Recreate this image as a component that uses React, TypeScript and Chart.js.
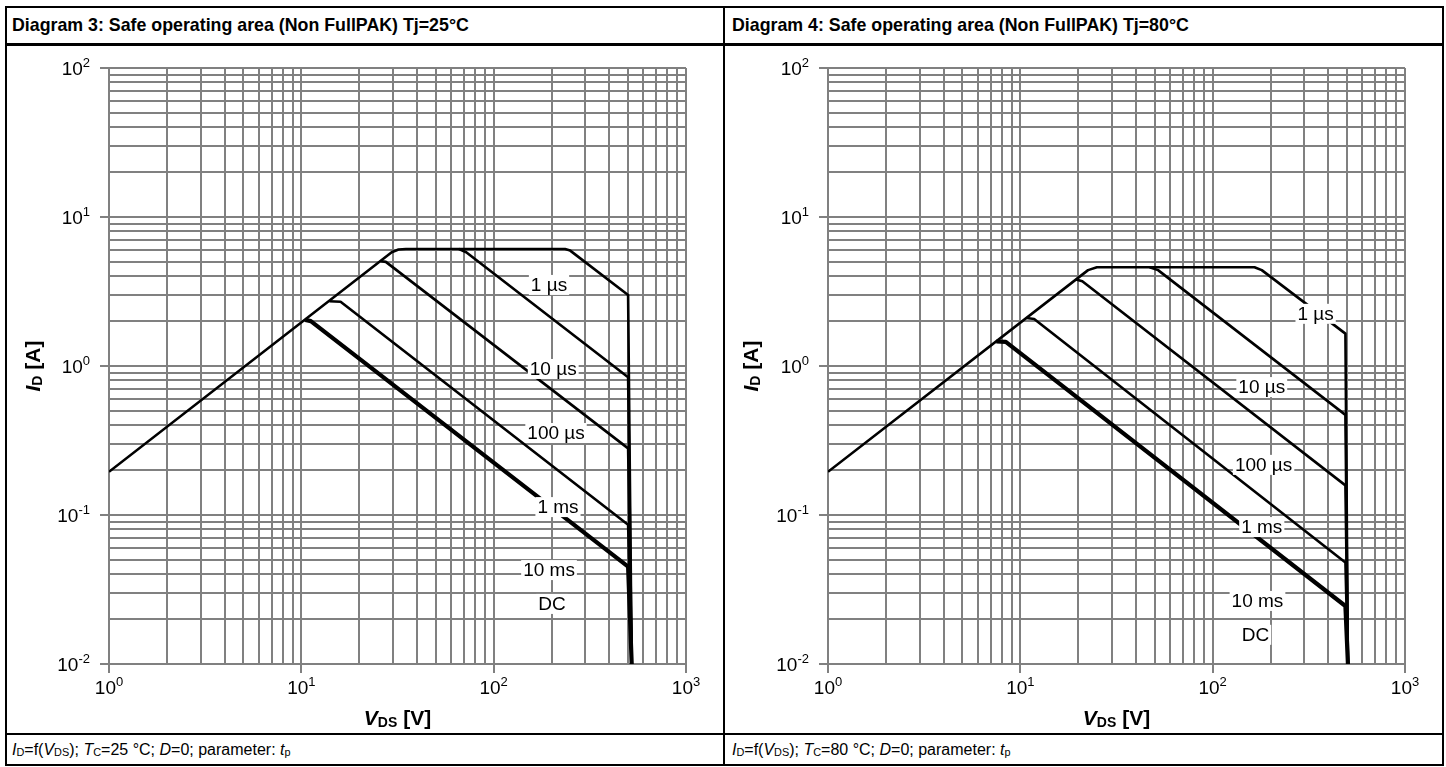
import React, { useEffect, useRef } from "react";
import { Chart, registerables } from "chart.js";

Chart.register(...registerables);

const FONT = '"Liberation Sans", Arial, Helvetica, sans-serif';
const GRID = "#808080";

// axis decades and the minor mantissas between them
const X_DECADES = [1, 10, 100, 1000];
const Y_DECADES = [0.01, 0.1, 1, 10, 100];
const MANTISSA = [1, 2, 3, 4, 5, 6, 7, 8, 9];

type Pt = [number, number]; // [V_DS in V, I_D in A]

// Diagram 3: Tj = 25 °C
const t25_1us: Pt[] = [[1, 0.195], [29.5, 5.8], [32, 6.05], [35, 6.1], [235, 6.1], [250, 5.95], [500, 3.0], [522, 0.01]];
const t25_10us: Pt[] = [[66, 6.1], [72, 5.8], [500, 0.84], [522, 0.01]];
const t25_100us: Pt[] = [[26, 5.05], [27.5, 5.0], [500, 0.28], [522, 0.01]];
const t25_1ms: Pt[] = [[14, 2.72], [16, 2.7], [500, 0.086], [522, 0.01]];
const t25_10ms: Pt[] = [[10.5, 2.04], [11.2, 2.0], [500, 0.045], [522, 0.01]];

const t25LabelText = ["1 µs", "10 µs", "100 µs", "1 ms", "10 ms", "DC"];
const t25LabelV = [194, 204, 211, 216, 194, 201];
const t25LabelI = [3.5, 0.955, 0.355, 0.113, 0.0427, 0.0253];

// Diagram 4: Tj = 80 °C
const t80_1us: Pt[] = [[1, 0.195], [22.5, 4.4], [25, 4.6], [165, 4.6], [180, 4.4], [490, 1.65], [505, 0.01]];
const t80_10us: Pt[] = [[47, 4.6], [52, 4.4], [490, 0.47], [505, 0.01]];
const t80_100us: Pt[] = [[19.5, 3.8], [21, 3.7], [490, 0.158], [505, 0.01]];
const t80_1ms: Pt[] = [[10.8, 2.1], [11.8, 2.07], [490, 0.048], [505, 0.01]];
const t80_10ms: Pt[] = [[7.5, 1.46], [8.4, 1.45], [490, 0.0245], [505, 0.01]];

const t80LabelText = ["1 µs", "10 µs", "100 µs", "1 ms", "10 ms", "DC"];
const t80LabelV = [343, 180, 184, 180, 171, 167];
const t80LabelI = [2.24, 0.722, 0.217, 0.083, 0.0265, 0.0157];

function isDecade(v?: number) {
  if (!v) return false;
  const l = Math.log10(v);
  return Math.abs(l - Math.round(l)) < 1e-6;
}

function makeTicks(decades: number[]) {
  const out: { value: number; major: boolean }[] = [];
  decades.forEach((d, i) => {
    MANTISSA.forEach((m) => {
      if (i === decades.length - 1 && m > 1) return;
      const v = parseFloat((m * d).toPrecision(6));
      out.push({ value: v, major: m === 1 });
    });
  });
  return out;
}

type Seg = { t: string; f: string; dy?: number };
function drawRich(ctx: CanvasRenderingContext2D, segs: Seg[], x: number, y: number, align: "left" | "center" | "right") {
  ctx.textAlign = "left";
  ctx.textBaseline = "alphabetic";
  const ws = segs.map((s) => {
    ctx.font = s.f;
    return ctx.measureText(s.t).width;
  });
  const total = ws.reduce((a, b) => a + b, 0);
  let cx = align === "center" ? x - total / 2 : align === "right" ? x - total : x;
  segs.forEach((s, i) => {
    ctx.font = s.f;
    ctx.fillText(s.t, cx, y + (s.dy || 0));
    cx += ws[i];
  });
}

const decorPlugin = {
  id: "soaDecor",
  afterDatasetsDraw(chart: any) {
    const ctx: CanvasRenderingContext2D = chart.ctx;
    const xs = chart.scales.x;
    const ys = chart.scales.y;
    const o = chart.options.plugins.soaDecor;
    ctx.save();
    ctx.font = `19px ${FONT}`;
    ctx.textAlign = "center";
    ctx.textBaseline = "middle";
    o.texts.forEach((t: string, i: number) => {
      const px = xs.getPixelForValue(o.vs[i]);
      const py = ys.getPixelForValue(o.is[i]);
      const w = ctx.measureText(t).width + 4;
      ctx.fillStyle = "#fff";
      ctx.fillRect(px - w / 2, py - 10, w, 20);
      ctx.fillStyle = "#000";
      ctx.fillText(t, px, py + 1);
    });
    ctx.restore();
  },
  afterDraw(chart: any) {
    const ctx: CanvasRenderingContext2D = chart.ctx;
    const xs = chart.scales.x;
    const ys = chart.scales.y;
    const ca = chart.chartArea;
    ctx.save();
    ctx.fillStyle = "#000";
    const big = `19px ${FONT}`;
    const sup = `13px ${FONT}`;
    X_DECADES.forEach((v) => {
      const px = xs.getPixelForValue(v);
      const e = String(Math.round(Math.log10(v)));
      drawRich(ctx, [{ t: "10", f: big }, { t: e, f: sup, dy: -8 }], px, ca.bottom + 30, "center");
    });
    Y_DECADES.forEach((v) => {
      const py = ys.getPixelForValue(v);
      const e = String(Math.round(Math.log10(v)));
      drawRich(ctx, [{ t: "10", f: big }, { t: e, f: sup, dy: -8 }], ca.left - 19, py + 7, "right");
    });
    // x title
    drawRich(
      ctx,
      [
        { t: "V", f: `italic bold 21px ${FONT}` },
        { t: "DS", f: `bold 14px ${FONT}`, dy: 2 },
        { t: " [V]", f: `bold 21px ${FONT}` },
      ],
      (ca.left + ca.right) / 2,
      ca.bottom + 61,
      "center"
    );
    // y title
    ctx.translate(25, (ca.top + ca.bottom) / 2);
    ctx.rotate(-Math.PI / 2);
    drawRich(
      ctx,
      [
        { t: "I", f: `italic bold 21px ${FONT}` },
        { t: "D", f: `bold 14px ${FONT}`, dy: 2 },
        { t: " [A]", f: `bold 21px ${FONT}` },
      ],
      0,
      8,
      "center"
    );
    ctx.restore();
  },
};

function ds(label: string, pts: Pt[], width: number) {
  return {
    label,
    data: pts.map(([x, y]) => ({ x, y })),
    borderColor: "#000",
    backgroundColor: "#000",
    borderWidth: width,
    pointRadius: 0,
    pointHoverRadius: 0,
    showLine: true,
    fill: false,
    tension: 0,
    borderJoinStyle: "round" as const,
  };
}

type ChartProps = {
  left: number;
  top: number;
  width: number;
  height: number;
  axisW: number;
  axisH: number;
  padR: number;
  padT: number;
  series: { label: string; pts: Pt[]; w: number }[];
  texts: string[];
  vs: number[];
  is: number[];
};

function SoaChart(p: ChartProps) {
  const ref = useRef<HTMLCanvasElement>(null);
  useEffect(() => {
    const tickColor = (c: any) => (isDecade(c.tick && c.tick.value) ? GRID : "rgba(0,0,0,0)");
    const chart = new Chart(ref.current as HTMLCanvasElement, {
      type: "scatter",
      data: { datasets: p.series.map((s) => ds(s.label, s.pts, s.w)) as any },
      options: {
        animation: false,
        responsive: false,
        events: [],
        layout: { padding: { left: 0, right: p.padR, top: p.padT, bottom: 0 } },
        plugins: {
          legend: { display: false },
          tooltip: { enabled: false },
          soaDecor: { texts: p.texts, vs: p.vs, is: p.is },
        } as any,
        scales: {
          x: {
            type: "logarithmic",
            min: 1,
            max: 1000,
            afterBuildTicks: (s: any) => {
              s.ticks = makeTicks(X_DECADES);
            },
            afterFit: (s: any) => {
              s.height = p.axisH;
            },
            ticks: { display: false, autoSkip: false },
            grid: { color: GRID, lineWidth: 2, tickLength: 9, tickColor, tickWidth: 2 },
            border: { color: GRID, width: 2 },
          },
          y: {
            type: "logarithmic",
            min: 0.01,
            max: 100,
            afterBuildTicks: (s: any) => {
              s.ticks = makeTicks(Y_DECADES);
            },
            afterFit: (s: any) => {
              s.width = p.axisW;
            },
            ticks: { display: false, autoSkip: false },
            grid: { color: GRID, lineWidth: 2, tickLength: 9, tickColor, tickWidth: 2 },
            border: { color: GRID, width: 2 },
          },
        } as any,
      },
      plugins: [decorPlugin as any],
    });
    return () => chart.destroy();
  }, []);
  return (
    <canvas
      ref={ref}
      width={p.width}
      height={p.height}
      style={{ position: "absolute", left: p.left, top: p.top, width: p.width, height: p.height }}
    />
  );
}

const subStyle: React.CSSProperties = { fontSize: "0.68em", verticalAlign: "-0.12em" };

function Footer({ left, tc }: { left: number; tc: string }) {
  return (
    <div
      style={{
        position: "absolute",
        left,
        top: 735,
        height: 29,
        display: "flex",
        alignItems: "center",
        fontSize: 16,
        whiteSpace: "nowrap",
      }}
    >
      <span>
        <i>I</i>
        <span style={subStyle}>D</span>=f(<i>V</i>
        <span style={subStyle}>DS</span>); <i>T</i>
        <span style={subStyle}>C</span>={tc} °C; <i>D</i>=0; parameter: <i>t</i>
        <span style={subStyle}>p</span>
      </span>
    </div>
  );
}

function Header({ left, text }: { left: number; text: string }) {
  return (
    <div
      style={{
        position: "absolute",
        left,
        top: 8,
        height: 35,
        display: "flex",
        alignItems: "center",
        fontSize: 17.8,
        fontWeight: "bold",
        whiteSpace: "nowrap",
      }}
    >
      {text}
    </div>
  );
}

function Line({ x, y, w, h }: { x: number; y: number; w: number; h: number }) {
  return <div style={{ position: "absolute", left: x, top: y, width: w, height: h, background: "#000" }} />;
}

export default function App() {
  const s25 = [
    { label: "1 µs", pts: t25_1us, w: 2.6 },
    { label: "10 µs", pts: t25_10us, w: 2.6 },
    { label: "100 µs", pts: t25_100us, w: 2.6 },
    { label: "1 ms", pts: t25_1ms, w: 2.6 },
    { label: "10 ms / DC", pts: t25_10ms, w: 4.2 },
  ];
  const s80 = [
    { label: "1 µs", pts: t80_1us, w: 2.6 },
    { label: "10 µs", pts: t80_10us, w: 2.6 },
    { label: "100 µs", pts: t80_100us, w: 2.6 },
    { label: "1 ms", pts: t80_1ms, w: 2.6 },
    { label: "10 ms / DC", pts: t80_10ms, w: 4.2 },
  ];
  return (
    <div
      style={{
        position: "absolute",
        left: 0,
        top: 0,
        width: 1446,
        height: 767,
        background: "#fff",
        fontFamily: FONT,
        color: "#000",
        overflow: "hidden",
      }}
    >
      <Header left={12} text="Diagram 3: Safe operating area (Non FullPAK) Tj=25°C" />
      <Header left={732} text="Diagram 4: Safe operating area (Non FullPAK) Tj=80°C" />
      <SoaChart
        left={7}
        top={46}
        width={716}
        height={687}
        axisW={102}
        axisH={69}
        padR={37}
        padT={22}
        series={s25}
        texts={t25LabelText}
        vs={t25LabelV}
        is={t25LabelI}
      />
      <SoaChart
        left={725}
        top={46}
        width={717}
        height={687}
        axisW={103}
        axisH={69}
        padR={37}
        padT={22}
        series={s80}
        texts={t80LabelText}
        vs={t80LabelV}
        is={t80LabelI}
      />
      <Footer left={12} tc="25" />
      <Footer left={732} tc="80" />
      {/* table borders */}
      <Line x={5} y={6} w={1439} h={2} />
      <Line x={5} y={43} w={1439} h={2.5} />
      <Line x={5} y={733} w={1439} h={2} />
      <Line x={5} y={764} w={1439} h={2} />
      <Line x={5} y={6} w={2} h={760} />
      <Line x={723} y={6} w={2} h={760} />
      <Line x={1442} y={6} w={2} h={760} />
    </div>
  );
}
